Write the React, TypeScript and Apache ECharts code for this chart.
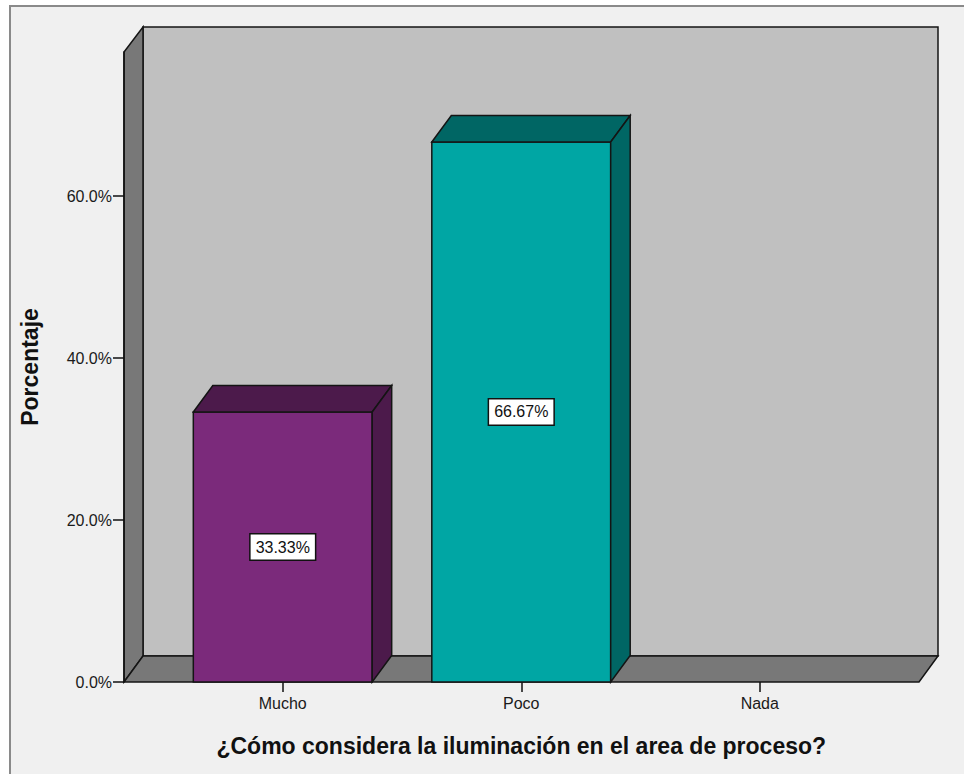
import React, { useEffect, useRef } from "react";
import * as echarts from "echarts";

const categories = ["Mucho", "Poco", "Nada"];
const percentages = [33.33, 66.67, 0];
const valueLabels = ["33.33%", "66.67%", ""];
const yTicks = [0, 20, 40, 60];
const frontColors = ["#7b2a7b", "#00a6a4", "#888888"];
const darkColors = ["#4c1a4b", "#006664", "#555555"];
const xTitle = "¿Cómo considera la iluminación en el area de proceso?";
const yTitle = "Porcentaje";

const FONT = "'Liberation Sans', Arial, sans-serif";
const DX = 19.5;
const DY = -26.5;

export default function App() {
  const ref = useRef<HTMLDivElement>(null);

  useEffect(() => {
    if (!ref.current) return;
    const chart = echarts.init(ref.current, null, { renderer: "svg" });

    const renderItem = (params: any, api: any) => {
      const idx = api.value(0);
      const v = api.value(1);
      if (!v) return { type: "group", children: [] };
      const top = api.coord([idx, v]);
      const base = api.coord([idx, 0]);
      const w = api.size([1, 0])[0] * 0.75;
      const L = top[0] - w / 2;
      const R = top[0] + w / 2;
      const yT = top[1];
      const y0 = base[1];
      const stroke = { stroke: "#141414", lineWidth: 1.5 };
      const i = params.dataIndex;
      return {
        type: "group",
        children: [
          {
            type: "rect",
            shape: { x: L, y: yT, width: w, height: y0 - yT },
            style: { fill: frontColors[i], ...stroke },
          },
          {
            type: "polygon",
            shape: {
              points: [
                [L, yT],
                [L + DX, yT + DY],
                [R + DX, yT + DY],
                [R, yT],
              ],
            },
            style: { fill: darkColors[i], ...stroke },
          },
          {
            type: "polygon",
            shape: {
              points: [
                [R, yT],
                [R + DX, yT + DY],
                [R + DX, y0 + DY],
                [R, y0],
              ],
            },
            style: { fill: darkColors[i], ...stroke },
          },
          {
            type: "text",
            x: top[0],
            y: (yT + y0) / 2,
            style: {
              text: valueLabels[i],
              fontSize: 16,
              fontFamily: FONT,
              fill: "#111",
              align: "center",
              verticalAlign: "middle",
              backgroundColor: "#ffffff",
              borderColor: "#111",
              borderWidth: 1.5,
              padding: [5, 5, 4, 5],
            },
          },
        ],
      };
    };

    const wallStroke = { stroke: "#141414", lineWidth: 1.5 };

    chart.setOption({
      animation: false,
      backgroundColor: "#ffffff",
      graphic: [
        {
          type: "rect",
          z: -10,
          shape: { x: 10, y: 6, width: 980, height: 800 },
          style: { fill: "#f0f0f0", stroke: "#8a8a8a", lineWidth: 2 },
        },
        {
          type: "rect",
          z: -5,
          shape: { x: 143, y: 27, width: 795, height: 629 },
          style: { fill: "#c0c0c0", ...wallStroke },
        },
        {
          type: "polygon",
          z: -4,
          shape: {
            points: [
              [124, 682],
              [124, 52],
              [143, 27],
              [143, 656],
            ],
          },
          style: { fill: "#787878", ...wallStroke },
        },
        {
          type: "polygon",
          z: -4,
          shape: {
            points: [
              [124, 682],
              [143, 656],
              [938, 656],
              [919, 682],
            ],
          },
          style: { fill: "#787878", ...wallStroke },
        },
      ],
      grid: { left: 163.5, right: 85, top: 52, bottom: 92 },
      xAxis: {
        type: "category",
        data: categories,
        axisLine: { show: false },
        axisTick: {
          show: true,
          alignWithLabel: true,
          length: 10,
          lineStyle: { color: "#111", width: 1.5 },
        },
        axisLabel: {
          fontSize: 16,
          fontFamily: FONT,
          color: "#1a1a1a",
          margin: 13,
        },
        name: xTitle,
        nameLocation: "middle",
        nameGap: 52,
        nameTextStyle: {
          fontSize: 23,
          fontWeight: "bold",
          fontFamily: FONT,
          color: "#111",
        },
      },
      yAxis: {
        type: "value",
        min: 0,
        max: 77.78,
        offset: 39.5,
        splitLine: { show: false },
        axisLine: { show: true, lineStyle: { color: "#111", width: 1.5 } },
        axisTick: {
          show: true,
          length: 11,
          customValues: yTicks,
          lineStyle: { color: "#111", width: 1.5 },
        },
        axisLabel: {
          customValues: yTicks,
          formatter: (v: number) => v.toFixed(1) + "%",
          fontSize: 16,
          fontFamily: FONT,
          color: "#1a1a1a",
          margin: 12,
        },
        name: yTitle,
        nameLocation: "middle",
        nameRotate: 90,
        nameGap: 83,
        nameTextStyle: {
          fontSize: 23,
          fontWeight: "bold",
          fontFamily: FONT,
          color: "#111",
        },
      },
      series: [
        {
          type: "custom",
          renderItem,
          data: categories.map((c, i) => [i, percentages[i]]),
          z: 5,
        },
      ],
    });

    return () => chart.dispose();
  }, []);

  return (
    <div
      ref={ref}
      style={{ position: "absolute", left: 0, top: 0, width: 964, height: 774 }}
    />
  );
}
